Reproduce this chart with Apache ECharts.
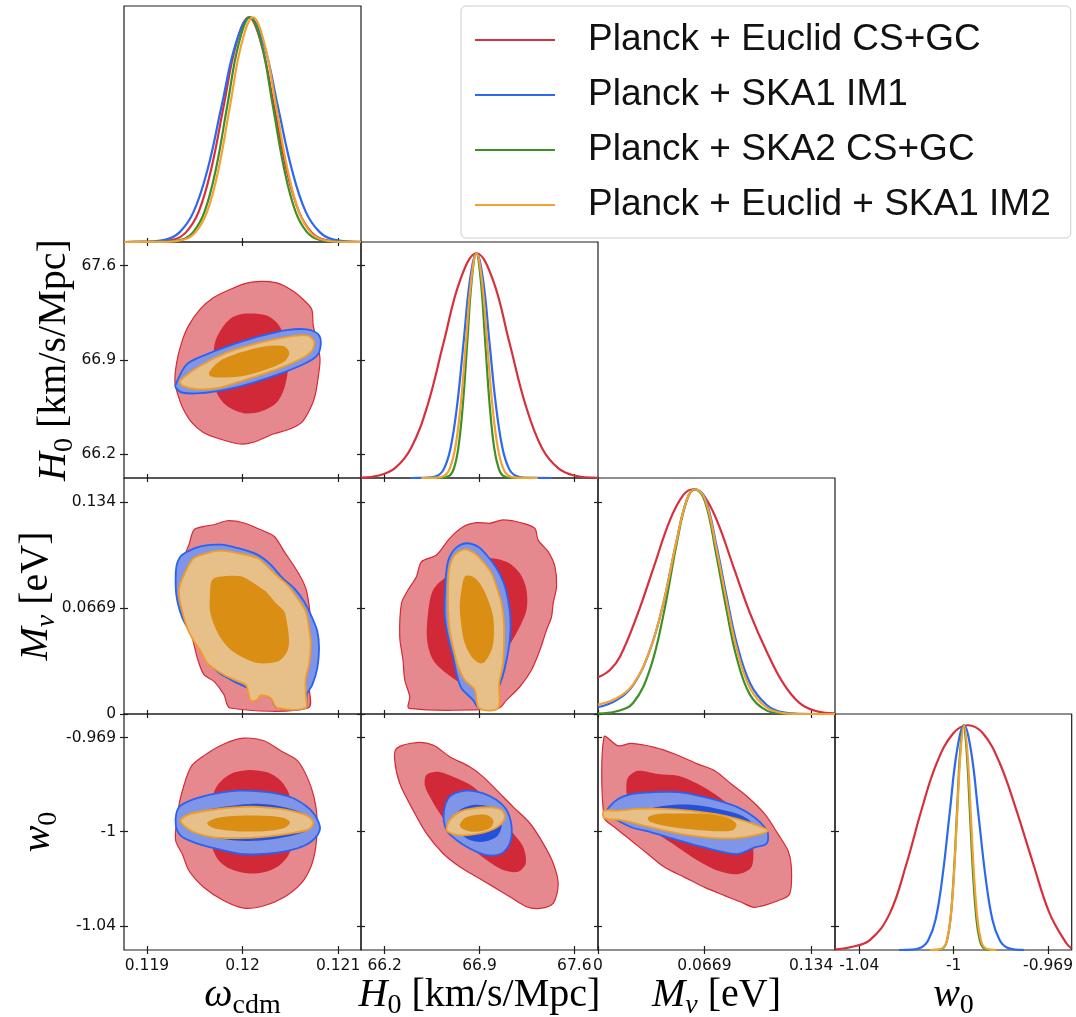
<!DOCTYPE html>
<html>
<head>
<meta charset="utf-8">
<script src="https://cdn.jsdelivr.net/npm/echarts@6/dist/echarts.min.js"></script>
<style>
  html, body { margin: 0; padding: 0; background: #fff; }
  #chart { width: 1076px; height: 1017px; }
</style>
</head>
<body>
<div id="chart"></div>
<script>
// ---------------------------------------------------------------------------
// Forecast combinations (legend order = draw order)
// ---------------------------------------------------------------------------
const SERIES_NAMES = [
  'Planck + Euclid CS+GC',
  'Planck + SKA1 IM1',
  'Planck + SKA2 CS+GC',
  'Planck + Euclid + SKA1 IM2'
];

// ---------------------------------------------------------------------------
// Parameter axes: plotted range, tick positions and tick labels
// ---------------------------------------------------------------------------
const OMEGA_RANGE = [0.11876, 0.12124];
const OMEGA_TICKS = [0.119, 0.12, 0.121];
const OMEGA_TICK_LABELS = ['0.119', '0.12', '0.121'];

const H0_RANGE = [66.025, 67.775];
const H0_TICKS = [66.2, 66.9, 67.6];
const H0_TICK_LABELS = ['66.2', '66.9', '67.6'];

const MNU_RANGE = [0, 0.149];
const MNU_TICKS = [0, 0.0669, 0.134];
const MNU_TICK_LABELS = ['0', '0.0669', '0.134'];

const W0_RANGE = [-1.0491, -0.9601];
const W0_TICKS = [-1.04, -1.0045, -0.969];
const W0_TICK_LABELS = ['-1.04', '-1', '-0.969'];

// ---------------------------------------------------------------------------
// 1D marginal posteriors, [value, P/Pmax]
// ---------------------------------------------------------------------------
const OMEGA_1D_EUCLID = [[0.11876,0],[0.119018,0.0003],[0.119280,0.011],[0.119411,0.044],[0.119542,0.135],[0.119673,0.325],[0.119804,0.607],[0.119935,0.882],[0.120066,1],[0.120197,0.882],[0.120328,0.607],[0.120459,0.325],[0.120590,0.135],[0.120721,0.044],[0.120852,0.011],[0.121114,0.0003],[0.12124,0]];
const OMEGA_1D_SKA1 = [[0.11876,0],[0.118903,0.0003],[0.119196,0.011],[0.119343,0.044],[0.119489,0.135],[0.119636,0.325],[0.119782,0.607],[0.119929,0.882],[0.120075,1],[0.120222,0.882],[0.120368,0.607],[0.120515,0.325],[0.120661,0.135],[0.120808,0.044],[0.120954,0.011],[0.12124,0.0003]];
const OMEGA_1D_SKA2 = [[0.11876,0],[0.119127,0.0003],[0.119365,0.011],[0.119484,0.044],[0.119603,0.135],[0.119722,0.325],[0.119841,0.607],[0.119960,0.882],[0.120079,1],[0.120198,0.882],[0.120317,0.607],[0.120436,0.325],[0.120555,0.135],[0.120674,0.044],[0.120793,0.011],[0.121031,0.0003],[0.12124,0]];
const OMEGA_1D_COMBO = [[0.11876,0],[0.119150,0.0003],[0.119390,0.011],[0.119510,0.044],[0.119630,0.135],[0.119750,0.325],[0.119870,0.607],[0.119990,0.882],[0.120110,1],[0.120230,0.882],[0.120350,0.607],[0.120470,0.325],[0.120590,0.135],[0.120710,0.044],[0.120830,0.011],[0.121070,0.0003],[0.12124,0]];

const H0_1D_EUCLID = [[66.025,0.002],[66.155,0.011],[66.276,0.044],[66.396,0.135],[66.517,0.325],[66.637,0.607],[66.758,0.882],[66.878,1],[66.999,0.882],[67.119,0.607],[67.240,0.325],[67.360,0.135],[67.481,0.044],[67.601,0.011],[67.775,0.001]];
const H0_1D_SKA1 = [[66.39,0],[66.497,0.0003],[66.592,0.011],[66.640,0.044],[66.687,0.135],[66.735,0.325],[66.783,0.607],[66.830,0.882],[66.878,1],[66.926,0.882],[66.973,0.607],[67.021,0.325],[67.069,0.135],[67.116,0.044],[67.164,0.011],[67.259,0.0003],[67.44,0]];
const H0_1D_SKA2 = [[66.47,0],[66.613,0.0003],[66.679,0.011],[66.712,0.044],[66.744,0.135],[66.777,0.325],[66.810,0.607],[66.843,0.882],[66.876,1],[66.909,0.882],[66.942,0.607],[66.975,0.325],[67.008,0.135],[67.041,0.044],[67.073,0.011],[67.139,0.0003],[67.33,0]];
const H0_1D_COMBO = [[66.47,0],[66.565,0.0003],[66.643,0.011],[66.682,0.044],[66.721,0.135],[66.761,0.325],[66.800,0.607],[66.839,0.882],[66.878,1],[66.917,0.882],[66.956,0.607],[66.995,0.325],[67.035,0.135],[67.074,0.044],[67.113,0.011],[67.191,0.0003],[67.33,0]];

const MNU_1D_EUCLID = [[0,0.163],[0.0075,0.196],[0.0138,0.255],[0.0243,0.433],[0.0348,0.648],[0.0453,0.864],[0.0537,0.975],[0.0600,1],[0.0662,0.975],[0.0746,0.864],[0.0851,0.656],[0.0956,0.448],[0.1061,0.277],[0.1165,0.136],[0.1270,0.047],[0.1375,0.012],[0.1490,0.003]];
const MNU_1D_SKA1 = [[0,0.030],[0.0117,0.062],[0.0222,0.129],[0.0327,0.285],[0.0411,0.493],[0.0495,0.774],[0.0558,0.953],[0.0610,1],[0.0673,0.960],[0.0746,0.745],[0.0809,0.522],[0.0872,0.315],[0.0956,0.137],[0.1061,0.040],[0.1165,0.007],[0.1270,0.001],[0.1490,0]];
const MNU_1D_SKA2 = [[0,0.002],[0.0117,0.012],[0.0222,0.050],[0.0327,0.200],[0.0411,0.440],[0.0495,0.760],[0.0558,0.950],[0.0610,1],[0.0673,0.945],[0.0746,0.700],[0.0809,0.460],[0.0872,0.250],[0.0956,0.085],[0.1061,0.015],[0.1165,0.002],[0.1270,0],[0.1490,0]];
const MNU_1D_COMBO = [[0,0.042],[0.0117,0.070],[0.0222,0.133],[0.0327,0.285],[0.0411,0.493],[0.0495,0.774],[0.0558,0.953],[0.0610,1],[0.0673,0.955],[0.0746,0.730],[0.0809,0.500],[0.0872,0.290],[0.0956,0.115],[0.1061,0.028],[0.1165,0.004],[0.1270,0],[0.1490,0]];

const W0_1D_EUCLID = [[-1.0491,0.003],[-1.0435,0.012],[-1.0360,0.044],[-1.0285,0.163],[-1.0222,0.385],[-1.0166,0.622],[-1.0109,0.830],[-1.0047,0.963],[-0.9991,1],[-0.9934,0.963],[-0.9871,0.830],[-0.9809,0.622],[-0.9746,0.385],[-0.9684,0.163],[-0.9621,0.030],[-0.9602,0.007]];
const W0_1D_SKA1 = [[-1.0250,0],[-1.0221,0.0003],[-1.0167,0.011],[-1.0140,0.044],[-1.0113,0.135],[-1.0087,0.325],[-1.0060,0.607],[-1.0033,0.882],[-1.0006,1],[-0.9979,0.882],[-0.9952,0.607],[-0.9925,0.325],[-0.9899,0.135],[-0.9872,0.044],[-0.9845,0.011],[-0.9791,0.0003],[-0.9780,0]];
const W0_1D_SKA2 = [[-1.0135,0],[-1.0106,0.0003],[-1.00815,0.011],[-1.00693,0.044],[-1.0057,0.135],[-1.00448,0.325],[-1.00325,0.607],[-1.00203,0.882],[-1.0008,1],[-0.99958,0.882],[-0.99835,0.607],[-0.99713,0.325],[-0.9959,0.135],[-0.99468,0.044],[-0.99345,0.011],[-0.991,0.0003],[-0.9884,0]];
const W0_1D_COMBO = [[-1.0135,0],[-1.0108,0.0003],[-1.00825,0.011],[-1.00698,0.044],[-1.0057,0.135],[-1.00443,0.325],[-1.00315,0.607],[-1.00188,0.882],[-1.0006,1],[-0.99933,0.882],[-0.99805,0.607],[-0.99678,0.325],[-0.9955,0.135],[-0.99423,0.044],[-0.99295,0.011],[-0.9904,0.0003],[-0.9884,0]];

// ---------------------------------------------------------------------------
// 2D credible-region outlines (68% / 95%), vertices in parameter units
// ---------------------------------------------------------------------------
// omega_cdm vs H0
const OMEGA_H0_EUCLID_95 = [[0.120079,67.476],[0.120358,67.472],[0.120532,67.410],[0.120654,67.336],[0.120725,67.275],[0.120741,67.151],[0.120777,67.053],[0.120811,66.905],[0.120794,66.782],[0.120759,66.634],[0.120707,66.536],[0.120620,66.437],[0.120497,66.388],[0.120322,66.351],[0.120113,66.290],[0.119974,66.277],[0.119764,66.314],[0.119590,66.363],[0.119468,66.437],[0.119380,66.536],[0.119328,66.634],[0.119293,66.733],[0.119311,66.881],[0.119363,67.029],[0.119433,67.151],[0.119555,67.275],[0.119694,67.361],[0.119869,67.423]];
const OMEGA_H0_EUCLID_68 = [[0.120044,67.245],[0.120253,67.230],[0.120375,67.164],[0.120445,67.053],[0.120480,66.881],[0.120445,66.708],[0.120358,66.585],[0.120183,66.516],[0.120008,66.506],[0.119835,66.560],[0.119730,66.659],[0.119694,66.831],[0.119712,67.029],[0.119799,67.151],[0.119904,67.221]];
const OMEGA_H0_SKA1_95 = [[0.119301,66.720],[0.119416,66.868],[0.119625,66.942],[0.119904,67.016],[0.120183,67.077],[0.120463,67.122],[0.120672,67.127],[0.120794,67.090],[0.120819,67.016],[0.120777,66.930],[0.120637,66.868],[0.120427,66.807],[0.120113,66.733],[0.119835,66.683],[0.119555,66.654],[0.119363,66.659],[0.119301,66.696]];
const OMEGA_H0_COMBO_95 = [[0.119346,66.745],[0.119555,66.856],[0.119835,66.955],[0.120113,67.016],[0.120427,67.066],[0.120672,67.083],[0.120749,67.040],[0.120725,66.967],[0.120602,66.905],[0.120358,66.831],[0.120044,66.757],[0.119764,66.696],[0.119520,66.683],[0.119374,66.708]];
const OMEGA_H0_COMBO_68 = [[0.119652,66.811],[0.119764,66.893],[0.119974,66.955],[0.120218,66.999],[0.120427,67.003],[0.120490,66.955],[0.120445,66.893],[0.120253,66.831],[0.120008,66.782],[0.119764,66.770],[0.119660,66.782]];

// omega_cdm vs M_nu
const OMEGA_MNU_EUCLID_95 = [[0.119841,0.1220],[0.120016,0.1206],[0.120191,0.1163],[0.120330,0.1122],[0.120435,0.1027],[0.120574,0.0901],[0.120662,0.0795],[0.120696,0.0690],[0.120714,0.0585],[0.120731,0.0437],[0.120714,0.0311],[0.120696,0.0185],[0.120686,0.0038],[0.119869,0.0038],[0.119806,0.0122],[0.119702,0.0206],[0.119597,0.0248],[0.119527,0.0354],[0.119474,0.0480],[0.119405,0.0585],[0.119353,0.0711],[0.119335,0.0838],[0.119370,0.0964],[0.119440,0.1069],[0.119492,0.1163],[0.119597,0.1185],[0.119702,0.1195]];
const OMEGA_MNU_SKA1_95 = [[0.119370,0.1006],[0.119562,0.1059],[0.119772,0.1069],[0.119946,0.1048],[0.120155,0.1006],[0.120295,0.0943],[0.120417,0.0859],[0.120539,0.0795],[0.120644,0.0711],[0.120731,0.0606],[0.120783,0.0522],[0.120801,0.0417],[0.120783,0.0290],[0.120731,0.0185],[0.120672,0.0122],[0.120662,0.0038],[0.120364,0.0038],[0.120295,0.0101],[0.120155,0.0133],[0.120016,0.0175],[0.119876,0.0217],[0.119736,0.0270],[0.119631,0.0354],[0.119579,0.0427],[0.119492,0.0491],[0.119405,0.0564],[0.119346,0.0648],[0.119307,0.0753],[0.119301,0.0879],[0.119317,0.0953]];
const OMEGA_MNU_COMBO_95 = [[0.119492,0.0985],[0.119631,0.1016],[0.119772,0.1031],[0.119946,0.1016],[0.120155,0.0985],[0.120260,0.0932],[0.120348,0.0879],[0.120469,0.0816],[0.120574,0.0732],[0.120662,0.0648],[0.120696,0.0543],[0.120714,0.0437],[0.120696,0.0311],[0.120662,0.0227],[0.120662,0.0122],[0.120662,0.0038],[0.120364,0.0038],[0.120295,0.0101],[0.120191,0.0118],[0.120155,0.0090],[0.120086,0.0084],[0.120058,0.0143],[0.120034,0.0185],[0.119911,0.0217],[0.119772,0.0259],[0.119631,0.0322],[0.119562,0.0396],[0.119492,0.0459],[0.119422,0.0543],[0.119370,0.0648],[0.119335,0.0753],[0.119346,0.0816],[0.119388,0.0879],[0.119440,0.0943]];
const OMEGA_MNU_COMBO_68 = [[0.119684,0.0848],[0.119806,0.0869],[0.119981,0.0869],[0.120086,0.0838],[0.120191,0.0795],[0.120260,0.0764],[0.120348,0.0701],[0.120435,0.0648],[0.120469,0.0564],[0.120487,0.0459],[0.120469,0.0396],[0.120400,0.0343],[0.120295,0.0322],[0.120155,0.0322],[0.120016,0.0354],[0.119876,0.0406],[0.119772,0.0480],[0.119702,0.0564],[0.119660,0.0648],[0.119660,0.0753]];

// omega_cdm vs w0
const OMEGA_W0_EUCLID_95 = [[0.120016,-0.9692],[0.120225,-0.9702],[0.120400,-0.9740],[0.120574,-0.9777],[0.120678,-0.9840],[0.120749,-0.9915],[0.120783,-1.0004],[0.120766,-1.0104],[0.120714,-1.0179],[0.120609,-1.0242],[0.120435,-1.0292],[0.120225,-1.0324],[0.120016,-1.0333],[0.119806,-1.0305],[0.119597,-1.0255],[0.119440,-1.0192],[0.119370,-1.0129],[0.119301,-1.0079],[0.119311,-1.0004],[0.119353,-0.9915],[0.119458,-0.9802],[0.119597,-0.9758],[0.119806,-0.9714]];
const OMEGA_W0_EUCLID_68 = [[0.120068,-0.9812],[0.120260,-0.9821],[0.120400,-0.9853],[0.120487,-0.9903],[0.120521,-0.9978],[0.120521,-1.0066],[0.120487,-1.0129],[0.120382,-1.0173],[0.120225,-1.0198],[0.120050,-1.0202],[0.119876,-1.0186],[0.119754,-1.0154],[0.119684,-1.0104],[0.119649,-1.0028],[0.119667,-0.9940],[0.119736,-0.9871],[0.119876,-0.9827]];
const OMEGA_W0_SKA1_95 = [[0.119301,-1.0016],[0.119335,-0.9953],[0.119492,-0.9922],[0.119736,-0.9900],[0.119981,-0.9890],[0.120260,-0.9896],[0.120505,-0.9915],[0.120662,-0.9947],[0.120749,-0.9978],[0.120811,-1.0028],[0.120766,-1.0066],[0.120644,-1.0098],[0.120469,-1.0117],[0.120225,-1.0129],[0.119981,-1.0129],[0.119736,-1.0110],[0.119492,-1.0085],[0.119353,-1.0060]];
const OMEGA_W0_SKA1_68 = [[0.119422,-1.0016],[0.119562,-0.9972],[0.119806,-0.9951],[0.120086,-0.9940],[0.120364,-0.9947],[0.120609,-0.9972],[0.120714,-1.0004],[0.120662,-1.0041],[0.120435,-1.0066],[0.120155,-1.0079],[0.119876,-1.0076],[0.119631,-1.0060],[0.119474,-1.0041]];
const OMEGA_W0_COMBO_95 = [[0.119353,-1.0001],[0.119458,-0.9978],[0.119667,-0.9963],[0.119911,-0.9953],[0.120155,-0.9951],[0.120400,-0.9959],[0.120574,-0.9972],[0.120678,-0.9985],[0.120741,-1.0010],[0.120696,-1.0035],[0.120505,-1.0051],[0.120225,-1.0064],[0.119946,-1.0069],[0.119702,-1.0066],[0.119492,-1.0047],[0.119388,-1.0022]];
const OMEGA_W0_COMBO_68 = [[0.119631,-1.0010],[0.119736,-0.9993],[0.119946,-0.9985],[0.120225,-0.9985],[0.120435,-0.9993],[0.120497,-1.0010],[0.120435,-1.0031],[0.120225,-1.0043],[0.119946,-1.0043],[0.119736,-1.0035],[0.119649,-1.0022]];

// H0 vs M_nu
const H0_MNU_EUCLID_95 = [[67.074,0.1225],[67.222,0.1204],[67.309,0.1172],[67.333,0.1098],[67.407,0.1025],[67.457,0.0930],[67.469,0.0804],[67.444,0.0699],[67.432,0.0614],[67.395,0.0530],[67.346,0.0404],[67.284,0.0278],[67.198,0.0172],[67.100,0.0088],[67.037,0.0036],[66.380,0.0036],[66.385,0.0109],[66.348,0.0215],[66.335,0.0341],[66.311,0.0488],[66.324,0.0699],[66.372,0.0783],[66.434,0.0867],[66.471,0.0961],[66.582,0.1004],[66.680,0.1109],[66.779,0.1182],[66.878,0.1208],[66.976,0.1204]];
const H0_MNU_EUCLID_68 = [[66.520,0.0636],[66.557,0.0783],[66.656,0.0867],[66.791,0.0930],[66.952,0.0983],[67.100,0.0961],[67.198,0.0888],[67.247,0.0783],[67.247,0.0657],[67.185,0.0530],[67.100,0.0404],[67.026,0.0299],[66.927,0.0225],[66.779,0.0194],[66.656,0.0257],[66.557,0.0341],[66.513,0.0467]];
const H0_MNU_SKA1_95 = [[66.804,0.1078],[66.890,0.1056],[66.952,0.1004],[67.026,0.0920],[67.080,0.0825],[67.111,0.0720],[67.129,0.0593],[67.124,0.0467],[67.100,0.0341],[67.070,0.0235],[67.037,0.0152],[67.026,0.0036],[66.897,0.0036],[66.853,0.0088],[66.767,0.0162],[66.730,0.0257],[66.705,0.0362],[66.668,0.0488],[66.644,0.0614],[66.644,0.0741],[66.656,0.0909],[66.680,0.0993],[66.730,0.1052]];
const H0_MNU_COMBO_95 = [[66.791,0.1040],[66.865,0.1014],[66.927,0.0961],[66.989,0.0888],[67.026,0.0804],[67.063,0.0699],[67.080,0.0573],[67.080,0.0425],[67.070,0.0299],[67.045,0.0194],[67.037,0.0036],[66.897,0.0036],[66.865,0.0152],[66.791,0.0215],[66.742,0.0299],[66.710,0.0404],[66.680,0.0530],[66.668,0.0657],[66.668,0.0825],[66.680,0.0930],[66.717,0.1004]];
const H0_MNU_COMBO_68 = [[66.791,0.0867],[66.841,0.0871],[66.902,0.0825],[66.964,0.0720],[67.001,0.0614],[67.006,0.0488],[66.989,0.0404],[66.939,0.0330],[66.902,0.0320],[66.841,0.0362],[66.791,0.0446],[66.767,0.0551],[66.754,0.0677],[66.767,0.0783]];

// H0 vs w0
const H0_W0_EUCLID_95 = [[66.287,-0.9731],[66.434,-0.9709],[66.557,-0.9718],[66.680,-0.9762],[66.828,-0.9800],[66.927,-0.9838],[67.026,-0.9888],[67.148,-0.9951],[67.272,-1.0013],[67.370,-1.0089],[67.444,-1.0164],[67.481,-1.0240],[67.444,-1.0315],[67.346,-1.0334],[67.247,-1.0328],[67.124,-1.0290],[67.001,-1.0252],[66.878,-1.0215],[66.754,-1.0177],[66.631,-1.0127],[66.508,-1.0051],[66.409,-0.9963],[66.311,-0.9862],[66.274,-0.9775]];
const H0_W0_EUCLID_68 = [[66.508,-0.9831],[66.594,-0.9819],[66.705,-0.9838],[66.853,-0.9875],[66.952,-0.9925],[67.050,-0.9988],[67.148,-1.0051],[67.222,-1.0102],[67.242,-1.0164],[67.185,-1.0196],[67.074,-1.0189],[66.952,-1.0152],[66.828,-1.0102],[66.705,-1.0039],[66.607,-0.9976],[66.533,-0.9913],[66.496,-0.9869]];
const H0_W0_SKA1_95 = [[66.680,-0.9913],[66.804,-0.9890],[66.927,-0.9900],[67.026,-0.9925],[67.100,-0.9963],[67.137,-1.0026],[67.124,-1.0089],[67.063,-1.0127],[66.952,-1.0133],[66.828,-1.0108],[66.730,-1.0076],[66.656,-1.0039],[66.636,-0.9976]];
const H0_W0_SKA1_68 = [[66.705,-1.0001],[66.754,-0.9963],[66.853,-0.9944],[66.976,-0.9951],[67.050,-0.9982],[67.063,-1.0026],[67.026,-1.0064],[66.927,-1.0083],[66.828,-1.0076],[66.754,-1.0051],[66.710,-1.0026]];
const H0_W0_COMBO_95 = [[66.656,-1.0032],[66.680,-1.0001],[66.754,-0.9970],[66.853,-0.9957],[66.976,-0.9953],[67.063,-0.9963],[67.087,-0.9988],[67.050,-1.0020],[66.952,-1.0045],[66.828,-1.0057],[66.730,-1.0057],[66.668,-1.0045]];
const H0_W0_COMBO_68 = [[66.754,-1.0020],[66.791,-0.9994],[66.865,-0.9982],[66.952,-0.9982],[67.001,-1.0001],[66.989,-1.0026],[66.927,-1.0041],[66.841,-1.0045],[66.779,-1.0036]];

// M_nu vs w0
const MNU_W0_EUCLID_95 = [[0.0038,-0.9687],[0.0126,-0.9721],[0.0210,-0.9712],[0.0356,-0.9727],[0.0482,-0.9752],[0.0629,-0.9790],[0.0734,-0.9815],[0.0838,-0.9865],[0.0943,-0.9915],[0.1048,-0.9978],[0.1132,-1.0054],[0.1195,-1.0117],[0.1216,-1.0179],[0.1205,-1.0280],[0.1132,-1.0305],[0.0985,-1.0330],[0.0901,-1.0311],[0.0796,-1.0286],[0.0671,-1.0255],[0.0545,-1.0217],[0.0419,-1.0179],[0.0314,-1.0129],[0.0210,-1.0079],[0.0105,-1.0028],[0.0038,-0.9991]];
const MNU_W0_EUCLID_68 = [[0.0189,-0.9840],[0.0252,-0.9815],[0.0377,-0.9827],[0.0503,-0.9834],[0.0629,-0.9865],[0.0734,-0.9903],[0.0838,-0.9953],[0.0943,-1.0028],[0.0975,-1.0104],[0.0964,-1.0179],[0.0880,-1.0205],[0.0755,-1.0192],[0.0629,-1.0154],[0.0503,-1.0104],[0.0377,-1.0054],[0.0252,-0.9991],[0.0189,-0.9928],[0.0178,-0.9878]];
const MNU_W0_SKA1_95 = [[0.0052,-0.9966],[0.0126,-0.9922],[0.0210,-0.9903],[0.0356,-0.9896],[0.0503,-0.9896],[0.0629,-0.9909],[0.0755,-0.9928],[0.0880,-0.9953],[0.0985,-0.9991],[0.1048,-1.0028],[0.1069,-1.0054],[0.1058,-1.0091],[0.0985,-1.0104],[0.0880,-1.0129],[0.0755,-1.0117],[0.0629,-1.0098],[0.0482,-1.0073],[0.0335,-1.0047],[0.0210,-1.0028],[0.0105,-0.9997],[0.0052,-0.9978]];
const MNU_W0_SKA1_68 = [[0.0293,-0.9966],[0.0419,-0.9947],[0.0587,-0.9943],[0.0734,-0.9956],[0.0880,-0.9978],[0.0964,-1.0010],[0.0943,-1.0047],[0.0838,-1.0066],[0.0692,-1.0064],[0.0524,-1.0041],[0.0377,-1.0016],[0.0293,-0.9991]];
const MNU_W0_COMBO_95 = [[0.0038,-0.9966],[0.0126,-0.9966],[0.0252,-0.9959],[0.0419,-0.9959],[0.0587,-0.9966],[0.0734,-0.9978],[0.0880,-0.9997],[0.1006,-1.0022],[0.1069,-1.0041],[0.1006,-1.0056],[0.0880,-1.0069],[0.0734,-1.0069],[0.0587,-1.0060],[0.0419,-1.0041],[0.0252,-1.0016],[0.0147,-1.0001],[0.0038,-0.9993]];
const MNU_W0_COMBO_68 = [[0.0314,-0.9991],[0.0377,-0.9978],[0.0524,-0.9976],[0.0692,-0.9978],[0.0817,-0.9993],[0.0870,-1.0016],[0.0849,-1.0039],[0.0734,-1.0043],[0.0566,-1.0035],[0.0419,-1.0022],[0.0325,-1.0006]];

// ---------------------------------------------------------------------------
// Styling and layout
// ---------------------------------------------------------------------------
const LINE_COLORS = ['#d7303c', '#2c68f0', '#3d8f28', '#f3a232'];
const REGION_STYLE = {
  eu95:    { fill: '#e5898e', stroke: '#d42a36', lineWidth: 1.2 },
  eu68:    { fill: '#d12937' },
  ska95:   { fill: '#7f95e8', stroke: '#2a62f0', lineWidth: 1.8 },
  ska68:   { fill: '#2451dc' },
  combo95: { fill: '#e6bf89', stroke: '#f09c26', lineWidth: 1.8 },
  combo68: { fill: '#da8f14' }
};
const SERIF = '"Liberation Serif", "DejaVu Serif", serif';
const TICK_FONT = '"DejaVu Sans", sans-serif';
const SPINE = '#1e1e1e';

const PANEL_LEFT = 124, PANEL_TOP = 6, PANEL_W = 237, PANEL_H = 236;

const PARAMS = [
  { range: OMEGA_RANGE, ticks: OMEGA_TICKS, labels: OMEGA_TICK_LABELS },
  { range: H0_RANGE,    ticks: H0_TICKS,    labels: H0_TICK_LABELS },
  { range: MNU_RANGE,   ticks: MNU_TICKS,   labels: MNU_TICK_LABELS },
  { range: W0_RANGE,    ticks: W0_TICKS,    labels: W0_TICK_LABELS }
];

const DIAG_CURVES = [
  [OMEGA_1D_EUCLID, OMEGA_1D_SKA1, OMEGA_1D_SKA2, OMEGA_1D_COMBO],
  [H0_1D_EUCLID, H0_1D_SKA1, H0_1D_SKA2, H0_1D_COMBO],
  [MNU_1D_EUCLID, MNU_1D_SKA1, MNU_1D_SKA2, MNU_1D_COMBO],
  [W0_1D_EUCLID, W0_1D_SKA1, W0_1D_SKA2, W0_1D_COMBO]
];

const PANELS_2D = [
  { row: 1, col: 0, layers: [['eu95', OMEGA_H0_EUCLID_95], ['eu68', OMEGA_H0_EUCLID_68], ['ska95', OMEGA_H0_SKA1_95], ['combo95', OMEGA_H0_COMBO_95], ['combo68', OMEGA_H0_COMBO_68]] },
  { row: 2, col: 0, layers: [['eu95', OMEGA_MNU_EUCLID_95], ['ska95', OMEGA_MNU_SKA1_95], ['combo95', OMEGA_MNU_COMBO_95], ['combo68', OMEGA_MNU_COMBO_68]] },
  { row: 3, col: 0, layers: [['eu95', OMEGA_W0_EUCLID_95], ['eu68', OMEGA_W0_EUCLID_68], ['ska95', OMEGA_W0_SKA1_95], ['ska68', OMEGA_W0_SKA1_68], ['combo95', OMEGA_W0_COMBO_95], ['combo68', OMEGA_W0_COMBO_68]] },
  { row: 2, col: 1, layers: [['eu95', H0_MNU_EUCLID_95], ['eu68', H0_MNU_EUCLID_68], ['ska95', H0_MNU_SKA1_95], ['combo95', H0_MNU_COMBO_95], ['combo68', H0_MNU_COMBO_68]] },
  { row: 3, col: 1, layers: [['eu95', H0_W0_EUCLID_95], ['eu68', H0_W0_EUCLID_68], ['ska95', H0_W0_SKA1_95], ['ska68', H0_W0_SKA1_68], ['combo95', H0_W0_COMBO_95], ['combo68', H0_W0_COMBO_68]] },
  { row: 3, col: 2, layers: [['eu95', MNU_W0_EUCLID_95], ['eu68', MNU_W0_EUCLID_68], ['ska95', MNU_W0_SKA1_95], ['ska68', MNU_W0_SKA1_68], ['combo95', MNU_W0_COMBO_95], ['combo68', MNU_W0_COMBO_68]] }
];

// ---------------------------------------------------------------------------
// Build the triangle of grids
// ---------------------------------------------------------------------------
const grids = [], xAxes = [], yAxes = [], series = [];

function tickLabel(param, v) {
  let best = 0;
  param.ticks.forEach((t, i) => { if (Math.abs(t - v) < Math.abs(param.ticks[best] - v)) best = i; });
  return param.labels[best];
}

function paramAxis(gridIndex, param, position, inside, showLabels) {
  return {
    type: 'value', gridIndex, position,
    min: param.range[0], max: param.range[1],
    axisLine: { show: false, onZero: false },
    splitLine: { show: false },
    axisTick: { show: true, inside, length: 4, customValues: param.ticks, lineStyle: { color: SPINE, width: 1.2 } },
    axisLabel: {
      show: showLabels, customValues: param.ticks, margin: 8,
      formatter: v => tickLabel(param, v),
      fontFamily: TICK_FONT, fontSize: 15.5, color: '#111'
    }
  };
}

function addGrid(row, col) {
  grids.push({
    left: PANEL_LEFT + col * PANEL_W, top: PANEL_TOP + row * PANEL_H,
    width: PANEL_W, height: PANEL_H,
    show: true, borderColor: SPINE, borderWidth: 1.2, backgroundColor: 'transparent'
  });
  return grids.length - 1;
}

// crossing ticks = one axis with outward ticks (+labels) and one with inward ticks
function addXAxes(g, param, labels) {
  xAxes.push(paramAxis(g, param, 'bottom', false, labels));
  const idx = xAxes.length - 1;
  xAxes.push(paramAxis(g, param, 'bottom', true, false));
  return idx;
}
function addYAxes(g, param, labels) {
  yAxes.push(paramAxis(g, param, 'left', false, labels));
  const idx = yAxes.length - 1;
  yAxes.push(paramAxis(g, param, 'left', true, false));
  return idx;
}

// diagonal: 1D marginals
for (let r = 0; r < 4; r++) {
  const g = addGrid(r, r);
  const xi = addXAxes(g, PARAMS[r], r === 3);
  if (r > 0) addYAxes(g, PARAMS[r], false);
  yAxes.push({ type: 'value', gridIndex: g, min: 0, max: 1.05, show: false });
  const yi = yAxes.length - 1;
  DIAG_CURVES[r].forEach((curve, k) => {
    series.push({
      type: 'line', name: SERIES_NAMES[k], xAxisIndex: xi, yAxisIndex: yi,
      data: curve, smooth: 0.4, showSymbol: false, symbol: 'none',
      color: LINE_COLORS[k],
      lineStyle: { color: LINE_COLORS[k], width: 2.2 },
      itemStyle: { color: LINE_COLORS[k] },
      animation: false, silent: true, z: 3
    });
  });
}

// off-diagonal: filled credible regions
PANELS_2D.forEach(panel => {
  const g = addGrid(panel.row, panel.col);
  const xi = addXAxes(g, PARAMS[panel.col], panel.row === 3);
  const yi = addYAxes(g, PARAMS[panel.row], panel.col === 0);
  panel.layers.forEach(([key, outline]) => {
    const st = REGION_STYLE[key];
    series.push({
      type: 'custom', coordinateSystem: 'cartesian2d',
      xAxisIndex: xi, yAxisIndex: yi, silent: true, animation: false,
      data: [outline[0]],
      renderItem: (params, api) => ({
        type: 'polygon',
        shape: { points: outline.map(p => api.coord(p)), smooth: 0.3 },
        style: { fill: st.fill, stroke: st.stroke || null, lineWidth: st.lineWidth || 0 }
      })
    });
  });
});

// ---------------------------------------------------------------------------
// Axis titles (LaTeX-style math labels)
// ---------------------------------------------------------------------------
const MATH_RICH = {
  i:  { fontFamily: SERIF, fontStyle: 'italic', fontSize: 40, lineHeight: 50, fill: '#000' },
  r:  { fontFamily: SERIF, fontSize: 40, lineHeight: 50, fill: '#000' },
  s:  { fontFamily: SERIF, fontSize: 28, lineHeight: 30, verticalAlign: 'bottom', fill: '#000' },
  si: { fontFamily: SERIF, fontStyle: 'italic', fontSize: 28, lineHeight: 30, verticalAlign: 'bottom', fill: '#000' }
};
const TITLE_OMEGA = '{i|ω}{s|cdm}';
const TITLE_H0 = '{i|H}{s|0}{r| [km/s/Mpc]}';
const TITLE_MNU = '{i|M}{si|ν}{r| [eV]}';
const TITLE_W0 = '{i|w}{s|0}';

function mathText(text, x, y, rotation) {
  return {
    type: 'text', x, y, rotation: rotation || 0, silent: true,
    style: { text, rich: MATH_RICH, align: 'center', verticalAlign: 'middle' }
  };
}
const colCenter = c => PANEL_LEFT + (c + 0.5) * PANEL_W;
const rowCenter = r => PANEL_TOP + (r + 0.5) * PANEL_H;

const graphics = [
  mathText(TITLE_OMEGA, colCenter(0), 995),
  mathText(TITLE_H0, colCenter(1), 995),
  mathText(TITLE_MNU, colCenter(2), 995),
  mathText(TITLE_W0, colCenter(3), 995),
  mathText(TITLE_H0, 54, rowCenter(1), Math.PI / 2),
  mathText(TITLE_MNU, 36, rowCenter(2), Math.PI / 2),
  mathText(TITLE_W0, 38, rowCenter(3), Math.PI / 2)
];

const chart = echarts.init(document.getElementById('chart'), null, { renderer: 'canvas' });
chart.setOption({
  backgroundColor: '#ffffff',
  animation: false,
  grid: grids,
  xAxis: xAxes,
  yAxis: yAxes,
  series,
  graphic: graphics,
  legend: {
    data: SERIES_NAMES,
    orient: 'vertical', left: 461, top: 6,
    icon: 'rect', itemWidth: 80, itemHeight: 2, itemGap: 15,
    padding: [14, 20, 13, 14],
    backgroundColor: '#ffffff', borderColor: '#cccccc', borderWidth: 1, borderRadius: 5,
    selectedMode: false,
    textStyle: { fontFamily: '"Liberation Sans", sans-serif', fontSize: 37, lineHeight: 40, color: '#111', padding: [0, 0, 0, 28] }
  }
});
</script>
</body>
</html>
